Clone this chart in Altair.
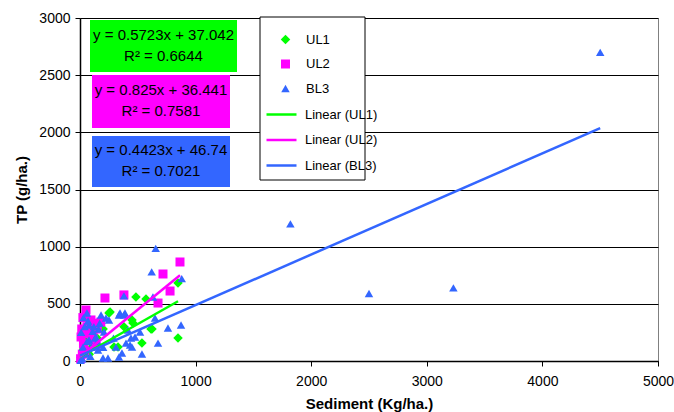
import altair as alt
import pandas as pd

FONT = "Liberation Sans"

series = ["UL1", "UL2", "BL3"]
colors = ["#00FF00", "#FF00FF", "#3366FF"]
shapes = ["diamond", "square", "triangle-up"]
marker_sizes = [90, 72, 140]
line_names = ["Linear (UL1)", "Linear (UL2)", "Linear (BL3)"]
slopes = [0.5723, 0.825, 0.4423]
intercepts = [37.042, 36.441, 46.74]
eq_line1 = ["y = 0.5723x + 37.042", "y = 0.825x + 36.441", "y = 0.4423x + 46.74"]
eq_line2 = ["R\u00b2 = 0.6644", "R\u00b2 = 0.7581", "R\u00b2 = 0.7021"]

ul1_x = [848, 484, 571, 260, 450, 614, 536, 848, 329, 251, 164, 294, 121, 60, 30, 10, 80, 150, 200, 380, 100, 40, 458, 623]
ul1_y = [682, 560, 542, 429, 359, 280, 157, 201, 122, 420, 341, 122, 184, 250, 100, 30, 60, 200, 280, 300, 120, 200, 332, 280]

ul2_x = [865, 718, 380, 216, 779, 675, 95, 52, 112, 9, 30, 60, 120, 150, 20, 5, 40, 100, 80, 180, 140, 15, 25]
ul2_y = [866, 761, 578, 551, 612, 507, 359, 446, 254, 210, 150, 300, 330, 280, 60, 20, 90, 180, 240, 340, 130, 280, 380]

bl3_x = [4500, 1820, 2500, 3230, 655, 620, 880, 631, 380, 225, 346, 389, 649, 761, 874, 675, 536, 519,
         433, 363, 199, 476, 78, 182, 251, 337, 380, 415, 78, 26, 138, 208, 311, 398, 441, 242, 156, 337,
         20, 50, 100, 10, 30, 60, 120, 5, 290, 160, 450, 40, 70, 110, 150, 200, 90, 130, 170, 60]
bl3_y = [2700, 1200, 590, 640, 985, 780, 720, 560, 569, 376, 420, 420, 376, 289, 315, 157, 61, 254,
         140, 70, 26, 210, 315, 402, 359, 402, 402, 271, 184, 122, 210, 254, 122, 157, 201, 26, 96, 35,
         20, 60, 120, 250, 380, 420, 300, 5, 200, 280, 122, 300, 350, 260, 170, 120, 40, 200, 330, 170]

xs = [ul1_x, ul2_x, bl3_x]
ys = [ul1_y, ul2_y, bl3_y]

pts = pd.DataFrame([
    {"series": s, "x": x, "y": y}
    for s, sx, sy in zip(series, xs, ys) for x, y in zip(sx, sy)
])

lines = pd.DataFrame([
    {"name": n, "x": xv, "y": m * xv + b}
    for n, m, b, sx in zip(line_names, slopes, intercepts, xs)
    for xv in (0, max(sx))
])

one = pd.DataFrame({"k": [0]})

x_enc = alt.X("x:Q", scale=alt.Scale(domain=[0, 5000], nice=False),
              axis=alt.Axis(values=[0, 1000, 2000, 3000, 4000, 5000], title="Sediment (Kg/ha.)", format="d",
                            grid=False, labelFlush=False, labelPadding=8, titlePadding=8))
y_enc = alt.Y("y:Q", scale=alt.Scale(domain=[0, 3000], nice=False),
              axis=alt.Axis(values=[0, 500, 1000, 1500, 2000, 2500, 3000], title="TP (g/ha.)", format="d",
                            grid=True, labelPadding=5, titlePadding=9))

leg_common = dict(orient="none", title=None, labelFont=FONT, labelFontSize=13, labelColor="black", padding=0)

pt_legend = alt.Legend(legendX=199, legendY=15, rowPadding=10.5, labelOffset=14, **leg_common)
points = alt.Chart(pts).mark_point(filled=True, opacity=1).encode(
    x=x_enc, y=y_enc,
    color=alt.Color("series:N", scale=alt.Scale(domain=series, range=colors), legend=pt_legend),
    shape=alt.Shape("series:N", scale=alt.Scale(domain=series, range=shapes), legend=pt_legend),
    size=alt.Size("series:N", scale=alt.Scale(domain=series, range=marker_sizes), legend=None),
)

ln_legend = alt.Legend(legendX=185, legendY=80, symbolType="stroke", symbolSize=900, rowPadding=1.5,
                       labelOffset=7, symbolStrokeWidth=2.5, **leg_common)
trend = alt.Chart(lines).mark_line(strokeWidth=2.5).encode(
    x="x:Q", y="y:Q",
    stroke=alt.Stroke("name:N", scale=alt.Scale(domain=line_names, range=colors), legend=ln_legend),
)

legend_box = alt.Chart(one).mark_rect(fill="white", stroke="black", strokeWidth=1).encode(
    x=alt.value(180), x2=alt.value(285), y=alt.value(-1), y2=alt.value(162))

box_x1 = [10, 12, 12]
box_x2 = [157, 150, 150]
box_y1 = [2, 57, 118]
box_y2 = [54, 110, 169]

layers = [points, trend, legend_box]
for i in range(3):
    layers.append(alt.Chart(one).mark_rect(fill=colors[i]).encode(
        x=alt.value(box_x1[i]), x2=alt.value(box_x2[i]),
        y=alt.value(box_y1[i]), y2=alt.value(box_y2[i])))
    cx = (box_x1[i] + box_x2[i]) / 2
    cy = (box_y1[i] + box_y2[i]) / 2
    layers.append(alt.Chart(one).mark_text(font=FONT, fontSize=15, color="black", baseline="middle").encode(
        x=alt.value(cx), y=alt.value(cy - 11.5), text=alt.value(eq_line1[i])))
    layers.append(alt.Chart(one).mark_text(font=FONT, fontSize=15, color="black", baseline="middle").encode(
        x=alt.value(cx), y=alt.value(cy + 9.5), text=alt.value(eq_line2[i])))

chart = alt.layer(*layers).properties(
    width=578, height=343,
    autosize=alt.AutoSizeParams(type="none"),
    padding={"left": 80, "top": 18, "right": 16, "bottom": 51},
    background="white",
).configure_view(stroke="#808080", strokeWidth=1).configure_axis(
    labelFont=FONT, labelFontSize=14, labelColor="black",
    titleFont=FONT, titleFontSize=15, titleFontWeight="bold", titleColor="black",
    domainColor="black", domainWidth=1.5, tickColor="black", tickSize=5,
    gridColor="black", gridWidth=1, gridOpacity=1,
)

chart.save("out.html", embed_options={"renderer": "svg", "actions": False})
